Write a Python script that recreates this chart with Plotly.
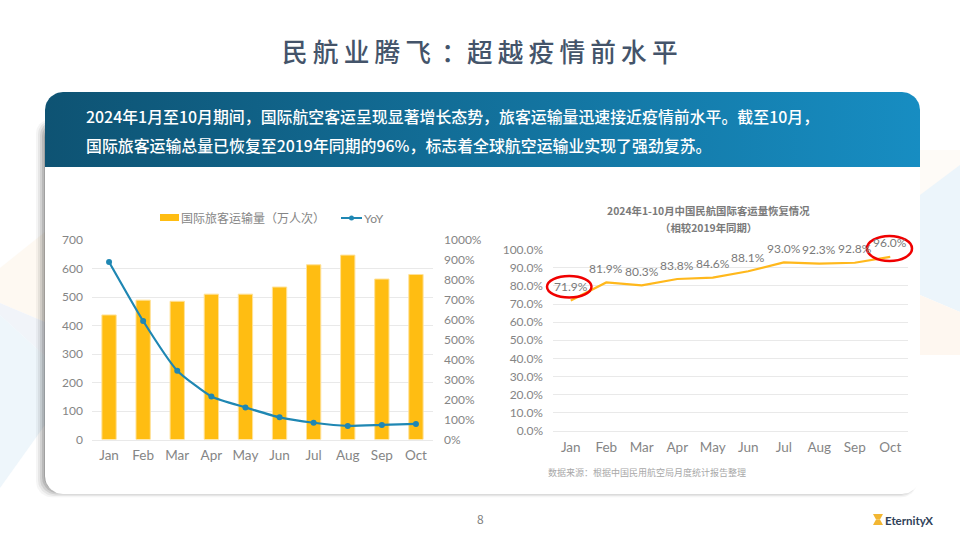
import numpy as np
import plotly.graph_objects as go

months = ['Jan', 'Feb', 'Mar', 'Apr', 'May', 'Jun', 'Jul', 'Aug', 'Sep', 'Oct']
passengers = [437, 489, 485, 510, 510, 535, 613, 647, 563, 579]
yoy = [890, 594, 345, 216, 161, 111, 84, 68, 73, 78]
recovery = [71.9, 81.9, 80.3, 83.8, 84.6, 88.1, 93.0, 92.3, 92.8, 96.0]

FONT = 'Lato, "Noto Sans CJK SC", sans-serif'
CJK = '"Noto Sans CJK SC", sans-serif'
GREY = '#858585'
GRID = '#e9e9e9'
BAR = '#ffbd12'
BLUE = '#1f87b3'
S = '\u2009'


def rounded(x0, y0, x1, y1, r_top, r_bot):
    # outline of a rounded box, in page pixels
    t = np.linspace(0, np.pi / 2, 12)
    xs = list(x0 + r_top - r_top * np.cos(t)) + list(x1 - r_top + r_top * np.sin(t))
    ys = list(y0 + r_top - r_top * np.sin(t)) + list(y0 + r_top - r_top * np.cos(t))
    xs += list(x1 - r_bot + r_bot * np.cos(t)) + list(x0 + r_bot - r_bot * np.sin(t))
    ys += list(y1 - r_bot + r_bot * np.sin(t)) + list(y1 - r_bot + r_bot * np.cos(t))
    return xs + [xs[0]], ys + [ys[0]]


def page_fill(xs, ys, color=None, gradient=None):
    fig.add_trace(go.Scatter(
        x=xs, y=ys, xaxis='x', yaxis='y', mode='lines', fill='toself',
        fillcolor=color, fillgradient=gradient, line=dict(width=0),
        hoverinfo='skip', showlegend=False
    ))


fig = go.Figure()

# soft background shapes either side of the card
page_fill([0, 45, 45, 0], [268, 232, 322, 303], '#fef9f2')
page_fill([0, 45, 45, 0], [303, 322, 356, 315], '#f1f4f9')
page_fill([0, 45, 45, 0], [315, 356, 425, 488], '#eef6fb')
page_fill([920, 960, 960, 920], [150, 150, 190, 195], '#fefbf7')
page_fill([920, 960, 960, 920], [195, 165, 312, 295], '#ecf5fb')
page_fill([920, 960, 960, 920], [295, 312, 355, 355], '#fef7f0')

# card shadow, then card, then header band
for grow, alpha in [(9, 0.05), (7, 0.08), (5, 0.12), (3, 0.16), (1, 0.20)]:
    sx, sy = rounded(45 - grow, 124 - grow / 2, 917, 491 + grow * 0.7, 14, 16)
    page_fill(sx, sy, 'rgba(60,60,60,%.2f)' % alpha)
cx, cy = rounded(45, 92, 920, 494, 18, 18)
page_fill(cx, cy, 'white')
hx, hy = rounded(45, 92, 920, 167, 18, 0.01)
page_fill(hx, hy, gradient=dict(type='horizontal', colorscale=[[0, '#0e5373'], [1, '#178dc2']]))

# logo hourglass
page_fill([873, 883, 880, 876], [514, 514, 519.5, 519.5], '#f2b632')
page_fill([873, 883, 880, 876], [525, 525, 519.5, 519.5], '#f2b632')

# left chart
fig.add_trace(go.Bar(
    x=months, y=passengers, xaxis='x2', yaxis='y2', showlegend=False,
    width=0.42, marker=dict(color=BAR, line=dict(color='#ffe29a', width=1))
))
fig.add_trace(go.Scatter(
    x=months, y=yoy, xaxis='x2', yaxis='y3', showlegend=False, mode='lines+markers',
    line=dict(color=BLUE, width=2.2, shape='spline', smoothing=0.5),
    marker=dict(color=BLUE, size=6)
))

# right chart
fig.add_trace(go.Scatter(
    x=months, y=recovery, xaxis='x3', yaxis='y4', mode='lines', showlegend=False,
    line=dict(color='#ffb81c', width=2.2)
))

notes = [
    (S.join('民航业腾飞') + S + S + '：' + S.join('超越疫情前水平'), 480, 50, 25.7, '#44546a', 'center', 500),
    ('2024年1月至10月期间，国际航空客运呈现显著增长态势，旅客运输量迅速接近疫情前水平。截至10月，', 84, 116, 15.9, 'white', 'left', 500),
    ('国际旅客运输总量已恢复至2019年同期的96%，标志着全球航空运输业实现了强劲复苏。', 84, 145, 15.9, 'white', 'left', 500),
    ('2024年1-10月中国民航国际客运量恢复情况', 708, 210, 10.4, '#7a7a7a', 'center', 700),
    ('（相较2019年同期）', 708, 227, 10.4, '#7a7a7a', 'center', 700),
    ('数据来源：根据中国民用航空局月度统计报告整理', 647, 472, 9, '#a8a8a8', 'center', 400),
    ('8', 480, 518, 12, '#808080', 'center', 400),
    ('EternityX', 883, 520, 11.5, '#2f4158', 'left', 700),
    ('国际旅客运输量（万人次）', 179, 217, 12, GREY, 'left', 400),
    ('YoY', 362, 218, 12, GREY, 'left', 400),
]
annotations = [
    dict(text=t, x=x, y=y, xref='x', yref='y', showarrow=False, xanchor=a, yanchor='middle',
         font=dict(family=FONT if t in ('EternityX', 'YoY') else CJK, size=s, color=c, weight=w))
    for t, x, y, s, c, a, w in notes
]
# value labels sit a fixed distance above the line
for month, value in zip(months, recovery):
    annotations.append(dict(
        text='%.1f%%' % value, x=month, y=value, xref='x3', yref='y4', showarrow=False,
        yshift=14, font=dict(family=FONT, size=12, color='#7a7a7a')
    ))

tick_font = dict(family=FONT, size=12, color=GREY)
fig.update_layout(
    width=960, height=540, autosize=False,
    margin=dict(l=0, r=0, t=0, b=0, autoexpand=False),
    paper_bgcolor='white', plot_bgcolor='rgba(0,0,0,0)',
    font=dict(family=FONT, color=GREY),
    showlegend=False,
    annotations=annotations,
    xaxis=dict(domain=[0, 1], range=[0, 960], visible=False, fixedrange=True),
    yaxis=dict(domain=[0, 1], range=[540, 0], visible=False, fixedrange=True),
    xaxis2=dict(domain=[92 / 960, 433 / 960], anchor='y2', range=[-0.5, 9.5],
                tickfont=dict(family=FONT, size=13.5, color=GREY),
                showline=True, linecolor=GRID, ticks='', showgrid=False, ticklabelstandoff=3),
    yaxis2=dict(domain=[1 - 439.5 / 540, 1 - 240 / 540], anchor='x2', range=[0, 700], dtick=100,
                tickfont=tick_font, gridcolor=GRID, zeroline=False, ticklabelstandoff=8),
    yaxis3=dict(domain=[1 - 439.5 / 540, 1 - 240 / 540], anchor='x2', overlaying='y2', side='right',
                range=[0, 1000], dtick=100, ticksuffix='%', tickfont=tick_font,
                showgrid=False, zeroline=False, ticklabelstandoff=10),
    xaxis3=dict(domain=[553 / 960, 908 / 960], anchor='y4', range=[-0.5, 9.5],
                tickfont=dict(family=FONT, size=13.5, color=GREY),
                showline=True, linecolor=GRID, ticks='', showgrid=False, ticklabelstandoff=4),
    yaxis4=dict(domain=[1 - 430.7 / 540, 1 - 249.7 / 540], anchor='x3', range=[0, 100], dtick=10,
                ticksuffix='%', tickformat='.1f', tickfont=tick_font, gridcolor=GRID,
                zeroline=False, ticklabelstandoff=9),
    shapes=[
        dict(type='circle', xref='x', yref='y', x0=547, x1=591.5, y0=276, y1=297.5,
             line=dict(color='#f00000', width=2.5)),
        dict(type='circle', xref='x', yref='y', x0=867, x1=912, y0=236, y1=261,
             line=dict(color='#f00000', width=2.5)),
        # key for the left chart
        dict(type='rect', xref='x', yref='y', x0=160, x1=179, y0=214, y1=221,
             fillcolor=BAR, line=dict(width=0)),
        dict(type='line', xref='x', yref='y', x0=341, x1=362, y0=218, y1=218,
             line=dict(color=BLUE, width=2)),
        dict(type='circle', xref='x', yref='y', x0=349, x1=354, y0=215.5, y1=220.5,
             fillcolor=BLUE, line=dict(width=0)),
    ],
)

# the page's default body margin would push the figure off its 960x540 frame
fig.write_html("out.html", config={'displayModeBar': False},
               post_script="document.body.style.margin='0';document.body.style.overflow='hidden';")
